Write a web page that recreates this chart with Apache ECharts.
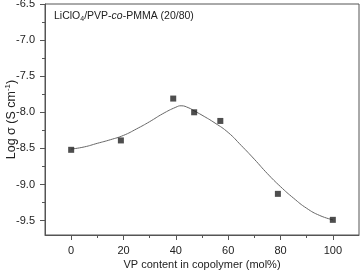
<!DOCTYPE html>
<html>
<head>
<meta charset="utf-8">
<script src="https://cdn.jsdelivr.net/npm/echarts@6/dist/echarts.min.js"></script>
<style>
  html, body { margin: 0; padding: 0; background: #fff; }
  #chart { width: 362px; height: 270px; }
</style>
</head>
<body>
<div id="chart"></div>
<script>
// measured points
const vpContent = [0, 19, 39, 47, 57, 79, 100];
const logSigma = [-8.52, -8.39, -7.81, -8.0, -8.12, -9.13, -9.49];

// fitted curve
const fitX = [0, 5, 10, 15, 20, 25, 30, 35, 40, 42, 45, 47, 50, 55, 60, 65, 70, 75, 80, 85, 90, 95, 100];
const fitY = [-8.51, -8.48, -8.43, -8.38, -8.32, -8.23, -8.13, -8.02, -7.93, -7.91, -7.94, -7.98, -8.04, -8.15, -8.28, -8.46, -8.65, -8.85, -9.03, -9.19, -9.33, -9.43, -9.49];

const xTicks = [0, 20, 40, 60, 80, 100];
const xMinor = [10, 30, 50, 70, 90];
const yTicks = [-9.5, -9.0, -8.5, -8.0, -7.5, -7.0, -6.5];
const yMinor = [-9.25, -8.75, -8.25, -7.75, -7.25, -6.75];

const axisColor = '#555';
const textColor = '#222';
const font = 'Liberation Sans, Arial, sans-serif';

let myChart = echarts.init(document.getElementById('chart'));
let option = {
    animation: false,
    grid: {
        left: 45, right: 3, top: 4, bottom: 35,
        containLabel: false, outerBoundsMode: 'none',
        show: true, borderColor: axisColor, borderWidth: 1
    },
    graphic: [{
        type: 'text',
        left: 54, top: 11,
        style: {
            text: '{n|LiClO}{s|4}{n|/PVP-}{i|co}{n|-PMMA (20/80)}',
            rich: {
                n: { fontSize: 10.5, fontFamily: font, fill: textColor },
                i: { fontSize: 10.5, fontFamily: font, fontStyle: 'italic', fill: textColor },
                s: { fontSize: 7, fontFamily: font, fill: textColor, padding: [6, 0, 0, 0] }
            }
        }
    }],
    xAxis: [{
        type: 'value', min: -10, max: 110,
        name: 'VP content in copolymer (mol%)',
        nameLocation: 'middle', nameGap: 24, nameMoveOverlap: false,
        nameTextStyle: { fontSize: 11, fontFamily: font, color: textColor },
        axisLine: { onZero: false, lineStyle: { color: axisColor } },
        axisTick: { customValues: xTicks, length: 5, lineStyle: { color: axisColor } },
        axisLabel: { customValues: xTicks, fontSize: 11, fontFamily: font, color: textColor, margin: 10 },
        splitLine: { show: false }
    }, {
        type: 'value', min: -10, max: 110, position: 'bottom',
        axisLine: { show: false, onZero: false },
        axisTick: { customValues: xMinor, length: 3, lineStyle: { color: axisColor } },
        axisLabel: { show: false },
        splitLine: { show: false }
    }],
    yAxis: [{
        type: 'value', min: -9.7, max: -6.5,
        name: 'Log σ (S cm{sup|-1})',
        nameLocation: 'middle', nameGap: 26, nameMoveOverlap: false,
        nameTextStyle: {
            fontSize: 12.5, fontFamily: font, color: textColor,
            rich: { sup: { fontSize: 8, fontFamily: font, color: textColor, padding: [0, 0, 7, 0] } }
        },
        axisLine: { show: true, onZero: false, lineStyle: { color: axisColor } },
        axisTick: { show: true, customValues: yTicks, length: 5, lineStyle: { color: axisColor } },
        axisLabel: {
            customValues: yTicks, fontSize: 11, fontFamily: font, color: textColor, margin: 10,
            formatter: v => v.toFixed(1)
        },
        splitLine: { show: false }
    }, {
        type: 'value', min: -9.7, max: -6.5, position: 'left',
        axisLine: { show: false, onZero: false },
        axisTick: { show: true, customValues: yMinor, length: 3, lineStyle: { color: axisColor } },
        axisLabel: { show: false },
        splitLine: { show: false }
    }],
    series: [{
        type: 'line',
        data: fitX.map((x, i) => [x, fitY[i]]),
        smooth: true,
        showSymbol: false,
        lineStyle: { color: '#666', width: 1 },
        z: 2
    }, {
        type: 'scatter',
        data: vpContent.map((x, i) => [x, logSigma[i]]),
        symbol: 'rect',
        symbolSize: 6,
        itemStyle: { color: '#222' },
        z: 3
    }]
};
option && myChart.setOption(option);
</script>
</body>
</html>
